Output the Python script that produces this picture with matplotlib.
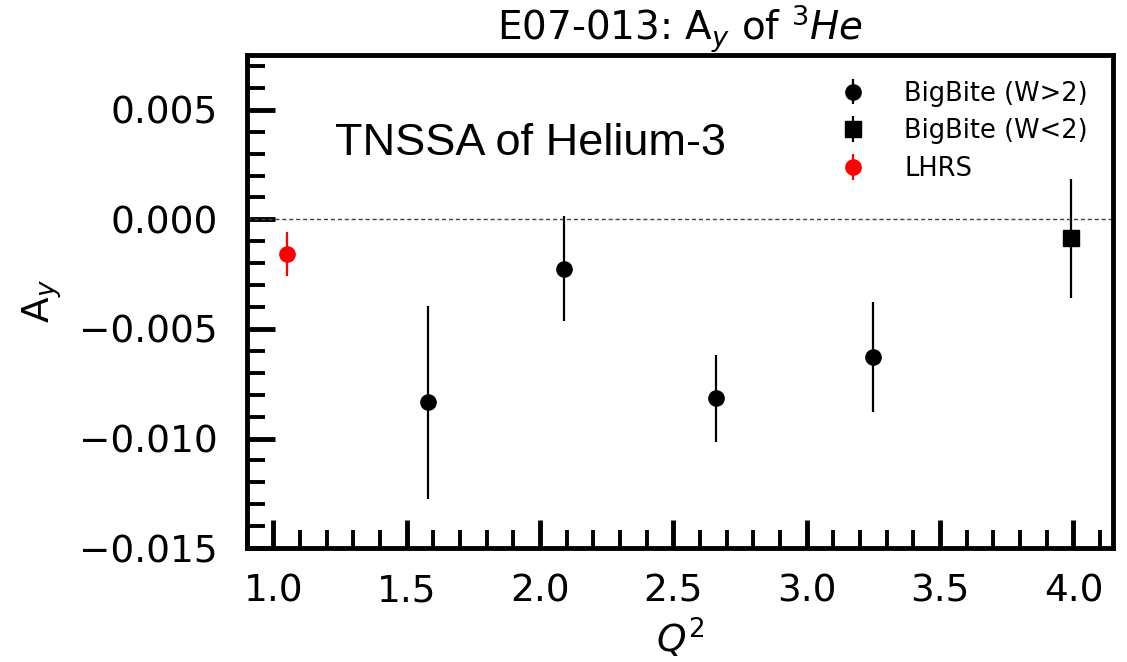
import matplotlib
matplotlib.use("Agg")
import matplotlib.pyplot as plt
from matplotlib.ticker import MultipleLocator

# Points BigBite (W>2)
q2_bb = [1.58, 2.09, 2.66, 3.25]
ay_bb = [-0.00835, -0.00225, -0.00817, -0.00628]
err_bb = [0.0044, 0.0024, 0.0020, 0.0025]

# Point BigBite (W<2)
q2_bb_low = [3.99]
ay_bb_low = [-0.00087]
err_bb_low = [0.0027]

# Point LHRS
q2_lhrs = [1.05]
ay_lhrs = [-0.0016]
err_lhrs = [0.0010]

fig = plt.figure(figsize=(11.27, 6.62), dpi=100)
ax = fig.add_axes([0.219, 0.172, 0.769, 0.745])

ax.errorbar(q2_bb, ay_bb, yerr=err_bb, fmt="o", color="black", markersize=11,
            elinewidth=1.6, capsize=0, label="BigBite (W>2)")
ax.errorbar(q2_bb_low, ay_bb_low, yerr=err_bb_low, fmt="s", color="black", markersize=11,
            elinewidth=1.6, capsize=0, label="BigBite (W<2)")
ax.errorbar(q2_lhrs, ay_lhrs, yerr=err_lhrs, fmt="o", color="red", markersize=11,
            elinewidth=1.6, capsize=0, label="LHRS")

ax.axhline(0, color="#444444", linestyle=(0, (3, 2)), linewidth=1)

ax.set_xlim(0.9, 4.15)
ax.set_ylim(-0.015, 0.0075)

ax.xaxis.set_major_locator(MultipleLocator(0.5))
ax.xaxis.set_minor_locator(MultipleLocator(0.1))
ax.yaxis.set_major_locator(MultipleLocator(0.005))
ax.yaxis.set_minor_locator(MultipleLocator(0.001))
ax.tick_params(which="major", direction="in", length=20, width=3.5, labelsize=27)
ax.tick_params(axis="y", which="major", pad=21)
ax.tick_params(axis="x", which="major", pad=18)
ax.tick_params(which="minor", direction="in", length=13, width=2.8)
for s in ax.spines.values():
    s.set_linewidth(3.5)

ax.set_xlabel("$Q^2$", fontsize=27, labelpad=5)
ax.set_ylabel("A$_y$", fontsize=27, labelpad=11)
ax.set_title("E07-013: A$_y$ of $^3He$", fontsize=28, pad=8)

ax.text(0.102, 0.82, "TNSSA of Helium-3", transform=ax.transAxes,
        fontsize=32.5, family="Liberation Sans", va="center")

ax.legend(loc="upper right", frameon=False, fontsize=18.5, handletextpad=1.0,
          borderaxespad=0.6, labelspacing=0.45)

plt.savefig("out.png", dpi=100)
